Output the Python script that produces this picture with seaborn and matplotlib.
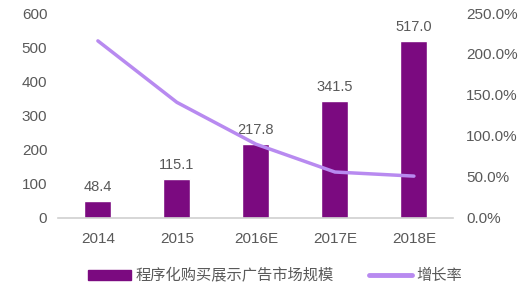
import matplotlib
matplotlib.use("Agg")
import matplotlib.pyplot as plt
import seaborn as sns
import pandas as pd
import numpy as np
from matplotlib.patches import Patch
from matplotlib.lines import Line2D

categories = ["2014", "2015", "2016E", "2017E", "2018E"]
market_size = [48.4, 115.1, 217.8, 341.5, 517.0]
growth_rate = [216.0, 141.0, 90.0, 56.0, 51.0]
bar_label = "程序化购买展示广告市场规模"
line_label = "增长率"

sns.set_theme(style="white")
plt.rcParams['font.family'] = ['Liberation Sans', 'Noto Sans CJK SC', 'DejaVu Sans']

bar_color = "#7B0A80"
line_color = "#B88AF0"
text_color = "#595959"

df = pd.DataFrame({"year": categories, "size": market_size, "rate": growth_rate})

fig = plt.figure(figsize=(5.26, 2.89), dpi=100)
ax = fig.add_axes([0.111, 0.246, 0.751, 0.709])

sns.barplot(data=df, x="year", y="size", color=bar_color, width=0.34,
            saturation=1, ax=ax)
for c in ax.containers:
    ax.bar_label(c, fmt="%.1f", padding=5, fontsize=10.5, color=text_color)

ax2 = ax.twinx()
sns.lineplot(data=df, x="year", y="rate", color=line_color, linewidth=2.5,
             sort=False, ax=ax2)

ax.set_xlim(-0.5, 4.5)
ax.set_ylim(0, 600)
ax.set_yticks(range(0, 601, 100))
ax2.set_ylim(0, 250)
ax2.set_yticks(np.arange(0, 251, 50))
ax2.set_yticklabels([f"{v:.1f}%" for v in np.arange(0, 251, 50)])

for a in (ax, ax2):
    a.set_xlabel("")
    a.set_ylabel("")
    for s in ("top", "left", "right", "bottom"):
        a.spines[s].set_visible(False)
ax.spines["bottom"].set_visible(True)
ax.spines["bottom"].set_color("#D0D0D0")
ax.spines["bottom"].set_linewidth(1.2)

ax.tick_params(axis="y", length=0, labelsize=11, labelcolor=text_color, pad=8)
ax2.tick_params(axis="y", length=0, labelsize=11, labelcolor=text_color, pad=9)
ax.tick_params(axis="x", length=0, labelsize=11, labelcolor=text_color, pad=10)
ax.set_xticks(np.arange(-0.5, 4.6, 1.0), minor=True)
ax.tick_params(axis="x", which="minor", length=4, color="#D0D0D0", width=1.2, direction="out")

handles = [Patch(facecolor=bar_color, edgecolor=bar_color),
           Line2D([0], [0], color=line_color, linewidth=3.5)]
fig.legend(handles, [bar_label, line_label], loc="center", bbox_to_anchor=(0.523, 0.045),
           ncol=2, frameon=False, labelcolor=text_color,
           handlelength=2.8, handleheight=0.55, columnspacing=2.3, handletextpad=0.3,
           prop={'family': ['Noto Sans CJK SC', 'DejaVu Sans'], 'size': 11})

fig.savefig("out.png", dpi=100)
